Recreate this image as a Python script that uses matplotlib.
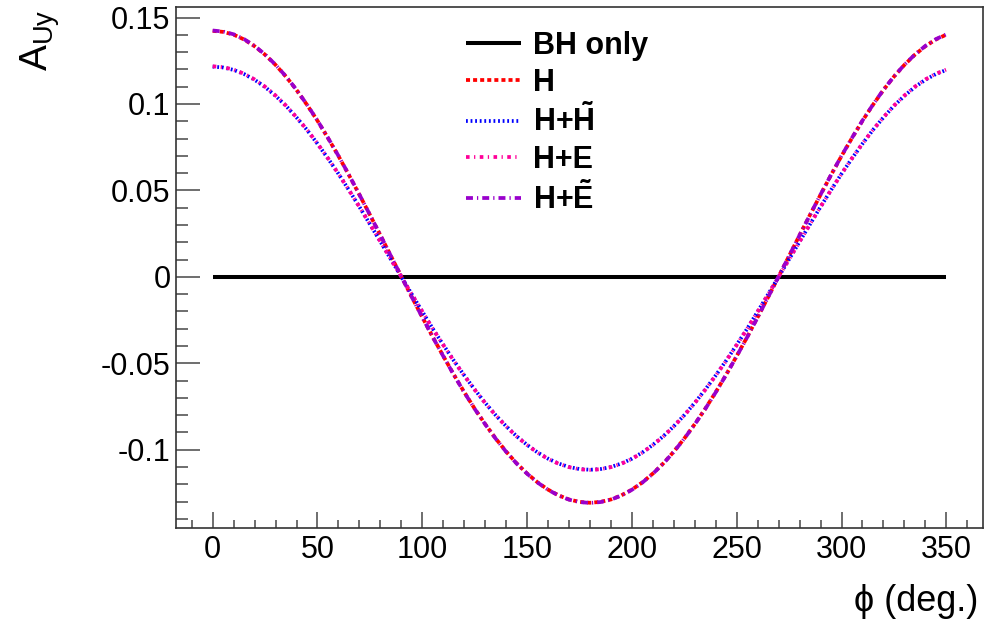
import matplotlib
matplotlib.use("Agg")
import matplotlib.pyplot as plt
from matplotlib.ticker import MultipleLocator, FixedLocator

plt.rcParams['font.family'] = ['Liberation Sans', 'DejaVu Sans']
plt.rcParams['mathtext.fontset'] = 'custom'
plt.rcParams['mathtext.rm'] = 'Liberation Sans'
plt.rcParams['mathtext.it'] = 'Liberation Sans:italic'
plt.rcParams['mathtext.bf'] = 'Liberation Sans:bold'
plt.rcParams['lines.scale_dashes'] = False

# ---- data ----
phi = list(range(0, 355, 5))

bh_only = [0.0] * len(phi)

a_h = [0.1423, 0.1417, 0.1401, 0.1373, 0.1334, 0.1285, 0.1226, 0.1158, 0.1081, 0.0995,
       0.0903, 0.0803, 0.0699, 0.0589, 0.0475, 0.0359, 0.0241, 0.0121, 0.0002, -0.0117,
       -0.0233, -0.0348, -0.0458, -0.0565, -0.0667, -0.0763, -0.0852, -0.0935, -0.1011, -0.1079,
       -0.1138, -0.1189, -0.1231, -0.1264, -0.1288, -0.1302, -0.1307, -0.1302, -0.1288, -0.1264,
       -0.1231, -0.1189, -0.1138, -0.1079, -0.1011, -0.0935, -0.0852, -0.0763, -0.0667, -0.0565,
       -0.0458, -0.0348, -0.0233, -0.0117, 0.0002, 0.0121, 0.0241, 0.0359, 0.0475, 0.0589,
       0.0699, 0.0803, 0.0903, 0.0995, 0.1081, 0.1158, 0.1226, 0.1285, 0.1334, 0.1373,
       0.1401]

a_h_ht = [0.1216, 0.1211, 0.1197, 0.1173, 0.1140, 0.1098, 0.1047, 0.0989, 0.0922, 0.0850,
          0.0770, 0.0685, 0.0596, 0.0502, 0.0405, 0.0305, 0.0204, 0.0102, 0.0000, -0.0101,
          -0.0201, -0.0300, -0.0393, -0.0484, -0.0570, -0.0652, -0.0729, -0.0800, -0.0864, -0.0922,
          -0.0972, -0.1016, -0.1052, -0.1080, -0.1100, -0.1112, -0.1116, -0.1112, -0.1100, -0.1080,
          -0.1052, -0.1016, -0.0972, -0.0922, -0.0864, -0.0800, -0.0729, -0.0652, -0.0570, -0.0484,
          -0.0393, -0.0300, -0.0201, -0.0101, 0.0000, 0.0102, 0.0204, 0.0305, 0.0405, 0.0502,
          0.0596, 0.0685, 0.0770, 0.0850, 0.0922, 0.0989, 0.1047, 0.1098, 0.1140, 0.1173,
          0.1197]

a_h_e = [0.1218, 0.1213, 0.1199, 0.1175, 0.1142, 0.1100, 0.1049, 0.0990, 0.0923, 0.0851,
         0.0771, 0.0686, 0.0596, 0.0502, 0.0405, 0.0305, 0.0204, 0.0102, 0.0000, -0.0101,
         -0.0201, -0.0300, -0.0394, -0.0485, -0.0571, -0.0653, -0.0730, -0.0801, -0.0865, -0.0923,
         -0.0973, -0.1017, -0.1053, -0.1081, -0.1101, -0.1113, -0.1117, -0.1113, -0.1101, -0.1081,
         -0.1053, -0.1017, -0.0973, -0.0923, -0.0865, -0.0801, -0.0730, -0.0653, -0.0571, -0.0485,
         -0.0394, -0.0300, -0.0201, -0.0101, 0.0000, 0.0102, 0.0204, 0.0305, 0.0405, 0.0502,
         0.0596, 0.0686, 0.0771, 0.0851, 0.0923, 0.0990, 0.1049, 0.1100, 0.1142, 0.1175,
         0.1199]

a_h_et = [0.1425, 0.1419, 0.1403, 0.1375, 0.1336, 0.1286, 0.1227, 0.1159, 0.1082, 0.0996,
          0.0904, 0.0804, 0.0700, 0.0590, 0.0476, 0.0359, 0.0241, 0.0121, 0.0002, -0.0117,
          -0.0234, -0.0349, -0.0459, -0.0566, -0.0668, -0.0764, -0.0853, -0.0936, -0.1012, -0.1080,
          -0.1139, -0.1190, -0.1232, -0.1265, -0.1289, -0.1303, -0.1308, -0.1303, -0.1289, -0.1265,
          -0.1232, -0.1190, -0.1139, -0.1080, -0.1012, -0.0936, -0.0853, -0.0764, -0.0668, -0.0566,
          -0.0459, -0.0349, -0.0234, -0.0117, 0.0002, 0.0121, 0.0241, 0.0359, 0.0476, 0.0590,
          0.0700, 0.0804, 0.0904, 0.0996, 0.1082, 0.1159, 0.1227, 0.1286, 0.1336, 0.1375,
          0.1403]

labels = ['BH only', 'H', r'H+$\mathbf{\tilde{H}}$', 'H+E', r'H+$\mathbf{\tilde{E}}$']

x_ticks = [0, 50, 100, 150, 200, 250, 300, 350]
y_ticks = [-0.1, -0.05, 0, 0.05, 0.1, 0.15]
y_ticklabels = ['-0.1', '-0.05', '0', '0.05', '0.1', '0.15']

# ---- figure ----
fig = plt.figure(figsize=(9.96, 6.22), dpi=100)
ax = fig.add_axes([176/996, 1-528/622, (983-176)/996, (528-7)/622])

l0, = ax.plot(phi, bh_only, color='black', lw=2.9, solid_capstyle='butt')
l1, = ax.plot(phi, a_h, color='#ff0000', lw=2.7, linestyle=(0, (2.9, 2.2)))
l2, = ax.plot(phi, a_h_ht, color='#0000ff', lw=2.7, linestyle=(0, (1.3, 2.0)))
l3, = ax.plot(phi, a_h_e, color='#ff0099', lw=2.7, linestyle=(0, (2.6, 3.2, 0.9, 3.2)))
l4, = ax.plot(phi, a_h_et, color='#9900cc', lw=2.7, linestyle=(0, (5.0, 2.9, 0.9, 2.9)))

ax.set_xlim(-17.5, 367.5)
ax.set_ylim(-0.1453, 0.1561)

ax.xaxis.set_major_locator(FixedLocator(x_ticks))
ax.xaxis.set_minor_locator(MultipleLocator(10))
ax.yaxis.set_major_locator(FixedLocator(y_ticks))
ax.set_yticklabels(y_ticklabels)
ax.yaxis.set_minor_locator(MultipleLocator(0.01))

for s in ax.spines.values():
    s.set_color('#333333')
    s.set_linewidth(1.2)

ax.tick_params(axis='both', which='both', direction='in', colors='#555555',
               labelcolor='black', labelsize=22, width=1.2)
ax.tick_params(axis='x', which='major', length=11.5, pad=5)
ax.tick_params(axis='x', which='minor', length=5.8)
ax.tick_params(axis='y', which='major', length=17, pad=4)
ax.tick_params(axis='y', which='minor', length=8.5)
ax.tick_params(top=False, right=False, which='both')

fig.text(978/996, 1-611/622, 'ϕ (deg.)', ha='right', va='baseline', fontsize=26)
fig.text(40/996, 1-9/622, r'$\mathregular{A_{Uy}}$', rotation=90, ha='center', va='top', fontsize=28)

leg = ax.legend([l0, l1, l2, l3, l4], labels, loc='upper left',
                bbox_to_anchor=((466-176)/807, 1-(31-7)/521), frameon=False,
                prop={'weight': 'bold', 'size': 22}, handlelength=1.8,
                handletextpad=0.4, labelspacing=0.22, borderpad=0, borderaxespad=0)

fig.savefig('out.png', dpi=100)
